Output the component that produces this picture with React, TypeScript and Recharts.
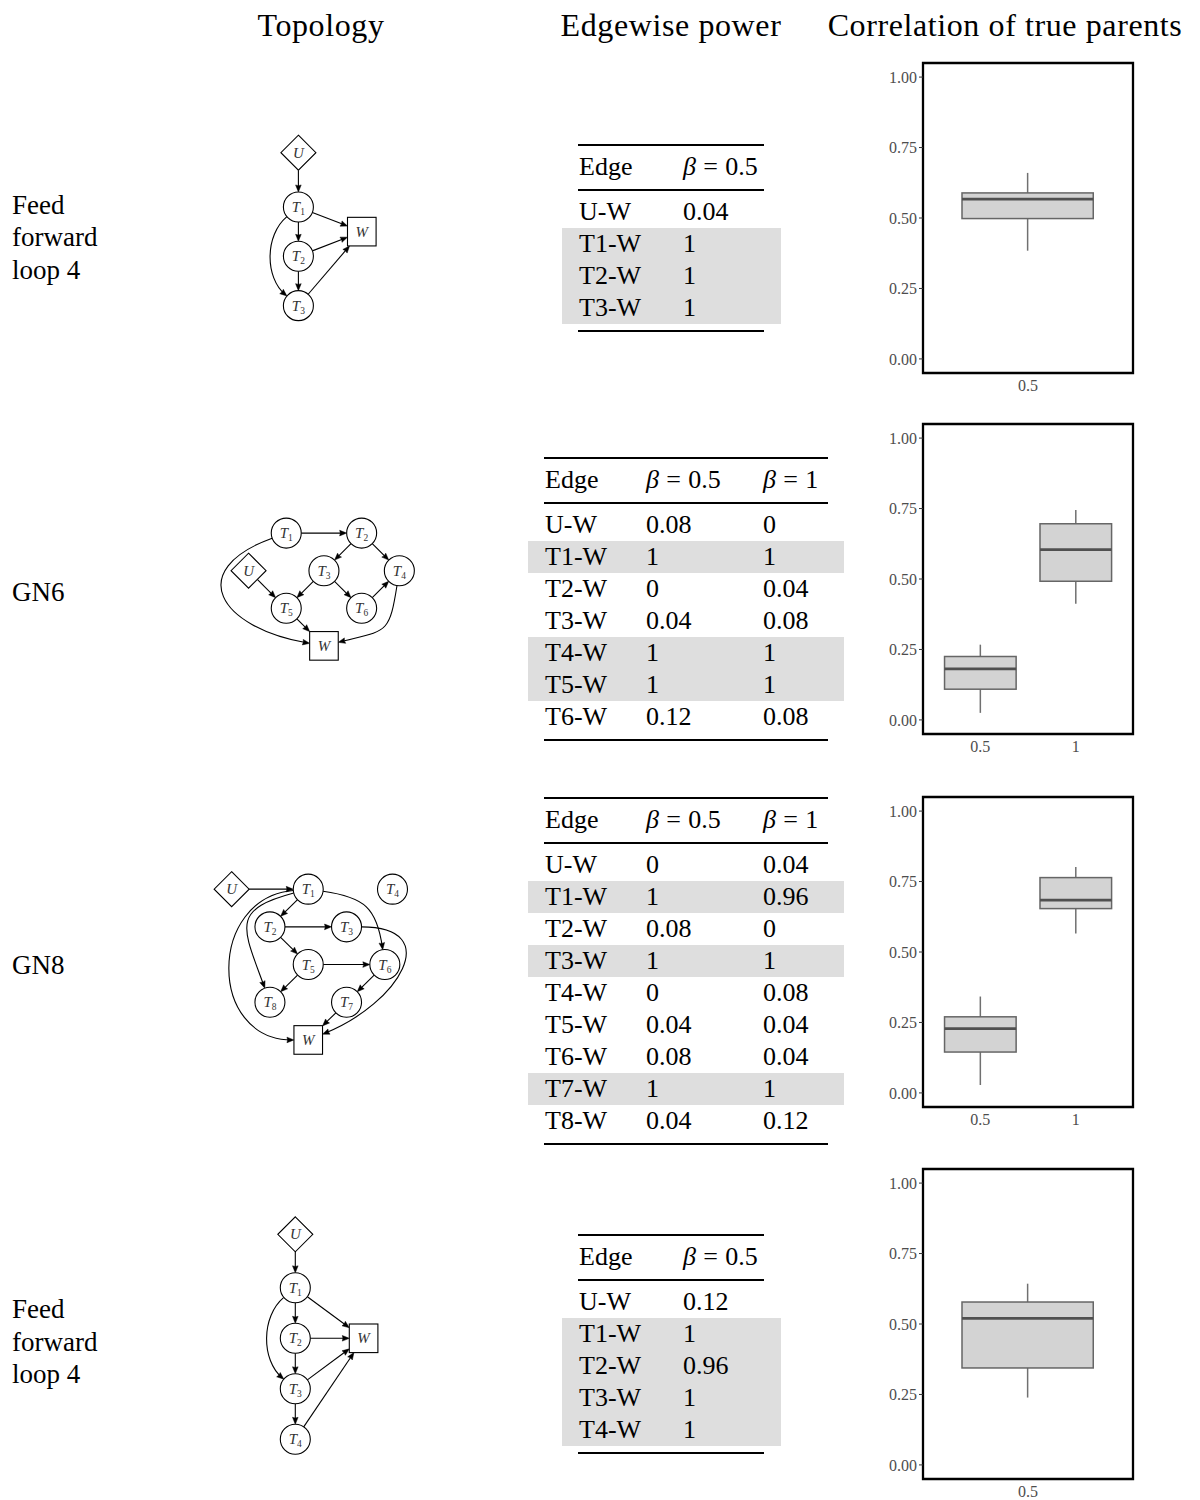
import React from 'react';
import {
  ComposedChart,
  ScatterChart,
  Scatter,
  Bar,
  XAxis,
  YAxis,
  ReferenceLine,
  ReferenceArea,
} from 'recharts';

const SERIF = '"Liberation Serif", "Times New Roman", Times, serif';

// ---------- headings ----------
const columnTitles = ['Topology', 'Edgewise power', 'Correlation of true parents'];
const ffl4Label = ['Feed', 'forward', 'loop 4'];
const gn6Label = ['GN6'];
const gn8Label = ['GN8'];

// ---------- edgewise power tables ----------
const ffl4aEdges = ['U-W', 'T1-W', 'T2-W', 'T3-W'];
const ffl4aPowerB05 = [0.04, 1, 1, 1];
const ffl4aParents = ['T1-W', 'T2-W', 'T3-W'];

const gn6Edges = ['U-W', 'T1-W', 'T2-W', 'T3-W', 'T4-W', 'T5-W', 'T6-W'];
const gn6PowerB05 = [0.08, 1, 0, 0.04, 1, 1, 0.12];
const gn6PowerB1 = [0, 1, 0.04, 0.08, 1, 1, 0.08];
const gn6Parents = ['T1-W', 'T4-W', 'T5-W'];

const gn8Edges = ['U-W', 'T1-W', 'T2-W', 'T3-W', 'T4-W', 'T5-W', 'T6-W', 'T7-W', 'T8-W'];
const gn8PowerB05 = [0, 1, 0.08, 1, 0, 0.04, 0.08, 1, 0.04];
const gn8PowerB1 = [0.04, 0.96, 0, 1, 0.08, 0.04, 0.04, 1, 0.12];
const gn8Parents = ['T1-W', 'T3-W', 'T7-W'];

const ffl4bEdges = ['U-W', 'T1-W', 'T2-W', 'T3-W', 'T4-W'];
const ffl4bPowerB05 = [0.12, 1, 0.96, 1, 1];
const ffl4bParents = ['T1-W', 'T2-W', 'T3-W', 'T4-W'];

// ---------- correlation box plots ----------
const ffl4aBetas = ['0.5'];
const ffl4aLower = [0.384];
const ffl4aQ1 = [0.498];
const ffl4aMedian = [0.567];
const ffl4aQ3 = [0.589];
const ffl4aUpper = [0.66];

const gn6Betas = ['0.5', '1'];
const gn6Lower = [0.025, 0.412];
const gn6Q1 = [0.109, 0.492];
const gn6Median = [0.181, 0.604];
const gn6Q3 = [0.225, 0.696];
const gn6Upper = [0.267, 0.745];

const gn8Betas = ['0.5', '1'];
const gn8Lower = [0.028, 0.566];
const gn8Q1 = [0.145, 0.654];
const gn8Median = [0.228, 0.684];
const gn8Q3 = [0.27, 0.764];
const gn8Upper = [0.342, 0.802];

const ffl4bBetas = ['0.5'];
const ffl4bLower = [0.239];
const ffl4bQ1 = [0.344];
const ffl4bMedian = [0.52];
const ffl4bQ3 = [0.578];
const ffl4bUpper = [0.643];

const corrTicks = [0, 0.25, 0.5, 0.75, 1];

// ---------- topologies (node layout in grid units) ----------
type NodeKind = 'circle' | 'diamond' | 'square';
type GNode = { id: string; name: string; sub: string; kind: NodeKind; col: number; row: number };
type Bend = { out: number; in: number; loose: number };
type Link = [string, string, Bend?];

const ffl4aNodes: GNode[] = [
  { id: 'U', name: 'U', sub: '', kind: 'diamond', col: 0, row: -1.1 },
  { id: 'T1', name: 'T', sub: '1', kind: 'circle', col: 0, row: 0 },
  { id: 'T2', name: 'T', sub: '2', kind: 'circle', col: 0, row: 1 },
  { id: 'T3', name: 'T', sub: '3', kind: 'circle', col: 0, row: 2 },
  { id: 'W', name: 'W', sub: '', kind: 'square', col: 1, row: 0.5 },
];
const ffl4aLinks: Link[] = [
  ['U', 'T1'],
  ['T1', 'T2'],
  ['T2', 'T3'],
  ['T1', 'T3', { out: 140, in: 40, loose: 0.75 }],
  ['T1', 'W'],
  ['T2', 'W'],
  ['T3', 'W'],
];

const gn6Nodes: GNode[] = [
  { id: 'T1', name: 'T', sub: '1', kind: 'circle', col: 1, row: 0 },
  { id: 'T2', name: 'T', sub: '2', kind: 'circle', col: 3, row: 0 },
  { id: 'U', name: 'U', sub: '', kind: 'diamond', col: 0, row: 1 },
  { id: 'T3', name: 'T', sub: '3', kind: 'circle', col: 2, row: 1 },
  { id: 'T4', name: 'T', sub: '4', kind: 'circle', col: 4, row: 1 },
  { id: 'T5', name: 'T', sub: '5', kind: 'circle', col: 1, row: 2 },
  { id: 'T6', name: 'T', sub: '6', kind: 'circle', col: 3, row: 2 },
  { id: 'W', name: 'W', sub: '', kind: 'square', col: 2, row: 3 },
];
const gn6Links: Link[] = [
  ['T1', 'T2'],
  ['T2', 'T3'],
  ['T2', 'T4'],
  ['T3', 'T5'],
  ['T3', 'T6'],
  ['T6', 'T4'],
  ['U', 'T5'],
  ['T5', 'W'],
  ['T1', 'W', { out: 160, in: 10, loose: 2.0 }],
  ['T4', 'W', { out: 99, in: 166, loose: 1.2 }],
];

const gn8Nodes: GNode[] = [
  { id: 'U', name: 'U', sub: '', kind: 'diamond', col: 0, row: 0 },
  { id: 'T1', name: 'T', sub: '1', kind: 'circle', col: 2, row: 0 },
  { id: 'T4', name: 'T', sub: '4', kind: 'circle', col: 4.2, row: 0 },
  { id: 'T2', name: 'T', sub: '2', kind: 'circle', col: 1, row: 1 },
  { id: 'T3', name: 'T', sub: '3', kind: 'circle', col: 3, row: 1 },
  { id: 'T5', name: 'T', sub: '5', kind: 'circle', col: 2, row: 2 },
  { id: 'T6', name: 'T', sub: '6', kind: 'circle', col: 4, row: 2 },
  { id: 'T8', name: 'T', sub: '8', kind: 'circle', col: 1, row: 3 },
  { id: 'T7', name: 'T', sub: '7', kind: 'circle', col: 3, row: 3 },
  { id: 'W', name: 'W', sub: '', kind: 'square', col: 2, row: 4 },
];
const gn8Links: Link[] = [
  ['U', 'T1'],
  ['T1', 'T2'],
  ['T2', 'T3'],
  ['T2', 'T5'],
  ['T5', 'T6'],
  ['T5', 'T8'],
  ['T6', 'T7'],
  ['T7', 'W'],
  ['T1', 'T6', { out: 8, in: 82, loose: 1 }],
  ['T1', 'T8', { out: 165, in: 70, loose: 1.4 }],
  ['T1', 'W', { out: 175, in: 0, loose: 1.46 }],
  ['T3', 'W', { out: 0, in: 158, loose: 1.78 }],
];

const ffl4bNodes: GNode[] = [
  { id: 'U', name: 'U', sub: '', kind: 'diamond', col: 0, row: -1.06 },
  { id: 'T1', name: 'T', sub: '1', kind: 'circle', col: 0, row: 0 },
  { id: 'T2', name: 'T', sub: '2', kind: 'circle', col: 0, row: 1 },
  { id: 'T3', name: 'T', sub: '3', kind: 'circle', col: 0, row: 2 },
  { id: 'T4', name: 'T', sub: '4', kind: 'circle', col: 0, row: 3 },
  { id: 'W', name: 'W', sub: '', kind: 'square', col: 1, row: 1 },
];
const ffl4bLinks: Link[] = [
  ['U', 'T1'],
  ['T1', 'T2'],
  ['T2', 'T3'],
  ['T3', 'T4'],
  ['T1', 'T3', { out: 140, in: 40, loose: 0.75 }],
  ['T1', 'W'],
  ['T2', 'W'],
  ['T3', 'W'],
  ['T4', 'W'],
];

// ---------- drawing helpers ----------
const NODE_R = 15;
const DIAMOND_H = 17.5;
const SQUARE_H = 14.3;
const HEAD_LEN = 7;
const HEAD_HALF = 2.8;

function borderDistance(kind: NodeKind, ux: number, uy: number) {
  if (kind === 'circle') return NODE_R;
  if (kind === 'diamond') return DIAMOND_H / (Math.abs(ux) + Math.abs(uy));
  return SQUARE_H / Math.max(Math.abs(ux), Math.abs(uy));
}

function EdgeArrow(props: any) {
  const { x1, y1, x2, y2, from, to, bend } = props;
  if ([x1, y1, x2, y2].some((v) => typeof v !== 'number' || isNaN(v))) return null;
  const dx = x2 - x1;
  const dy = y2 - y1;
  const dist = Math.hypot(dx, dy);
  const chord = Math.atan2(dy, dx);
  const aOut = bend ? (bend.out * Math.PI) / 180 : chord;
  const aIn = bend ? (bend.in * Math.PI) / 180 : chord;
  const uox = Math.cos(aOut);
  const uoy = Math.sin(aOut);
  const uix = Math.cos(aIn);
  const uiy = Math.sin(aIn);
  const ds = borderDistance(from.kind, uox, uoy);
  const de = borderDistance(to.kind, uix, uiy);
  const sx = x1 + uox * ds;
  const sy = y1 + uoy * ds;
  const ex = x2 - uix * de;
  const ey = y2 - uiy * de;
  let d: string;
  if (bend) {
    const L = 0.3915 * bend.loose * dist;
    d = `M${sx},${sy} C${sx + uox * L},${sy + uoy * L} ${ex - uix * L},${ey - uiy * L} ${ex - uix * 2},${ey - uiy * 2}`;
  } else {
    d = `M${sx},${sy} L${ex - uix * 2},${ey - uiy * 2}`;
  }
  const bx = ex - uix * HEAD_LEN;
  const by = ey - uiy * HEAD_LEN;
  const nx = -uiy;
  const ny = uix;
  const head = `M${ex},${ey} L${bx + nx * HEAD_HALF},${by + ny * HEAD_HALF} Q${ex - uix * HEAD_LEN * 0.8},${ey - uiy * HEAD_LEN * 0.8} ${bx - nx * HEAD_HALF},${by - ny * HEAD_HALF} Z`;
  return (
    <g>
      <path d={d} fill="none" stroke="#000" strokeWidth={1.1} />
      <path d={head} fill="#000" stroke="#000" strokeWidth={0.5} strokeLinejoin="round" />
    </g>
  );
}

function NodeShape(props: any) {
  const { cx, cy } = props;
  const node: GNode = props.payload;
  if (typeof cx !== 'number' || !node) return null;
  let outline: React.ReactNode;
  if (node.kind === 'circle') {
    outline = <circle cx={cx} cy={cy} r={NODE_R} fill="#fff" stroke="#000" strokeWidth={1.1} />;
  } else if (node.kind === 'diamond') {
    const h = DIAMOND_H;
    outline = (
      <polygon
        points={`${cx},${cy - h} ${cx + h},${cy} ${cx},${cy + h} ${cx - h},${cy}`}
        fill="#fff"
        stroke="#000"
        strokeWidth={1.1}
      />
    );
  } else {
    const h = SQUARE_H;
    outline = (
      <rect x={cx - h} y={cy - h} width={2 * h} height={2 * h} fill="#fff" stroke="#000" strokeWidth={1.1} />
    );
  }
  return (
    <g>
      {outline}
      <text
        x={cx}
        y={cy + 5}
        textAnchor="middle"
        fontFamily={SERIF}
        fontSize={15}
        fontStyle="italic"
        fill="#333"
      >
        {node.name}
        {node.sub ? (
          <tspan fontSize={9.5} fontStyle="normal" dy={3}>
            {node.sub}
          </tspan>
        ) : null}
      </text>
    </g>
  );
}

type Layout = { ox: number; oy: number; sx: number; sy: number; xr: [number, number]; yr: [number, number] };

function Topology({ layout, nodes, links }: { layout: Layout; nodes: GNode[]; links: Link[] }) {
  const { ox, oy, sx, sy, xr, yr } = layout;
  const left = ox + xr[0] * sx;
  const top = oy + yr[0] * sy;
  const width = (xr[1] - xr[0]) * sx;
  const height = (yr[1] - yr[0]) * sy;
  const byId: Record<string, GNode> = {};
  nodes.forEach((n) => {
    byId[n.id] = n;
  });
  return (
    <div style={{ position: 'absolute', left, top, width, height }}>
      <ScatterChart
        width={width}
        height={height}
        margin={{ top: 0, right: 0, bottom: 0, left: 0 }}
        style={{ overflow: 'visible' }}
      >
        <XAxis type="number" dataKey="col" domain={xr} hide allowDataOverflow />
        <YAxis type="number" dataKey="row" domain={yr} hide reversed allowDataOverflow />
        {links.map(([a, b, bend], i) => (
          <ReferenceLine
            key={`${a}-${b}-${i}`}
            segment={[
              { x: byId[a].col, y: byId[a].row },
              { x: byId[b].col, y: byId[b].row },
            ]}
            ifOverflow="visible"
            shape={(p: any) => <EdgeArrow {...p} from={byId[a]} to={byId[b]} bend={bend} />}
          />
        ))}
        <Scatter data={nodes} shape={NodeShape} isAnimationActive={false} />
      </ScatterChart>
    </div>
  );
}

// ---------- box plot ----------
const BOX_CHART_W = 290;
const BOX_Y_AXIS_W = 63;
const BOX_RIGHT = 17;
const BOX_PLOT_W = BOX_CHART_W - BOX_Y_AXIS_W - BOX_RIGHT;
const BOX_PLOT_H = 310;

function BoxShape(props: any) {
  const { x, y, width, height } = props;
  const d = props.payload ?? props;
  if (typeof x !== 'number' || typeof y !== 'number' || !d) return null;
  const top = Math.min(y, y + height);
  const bottom = Math.max(y, y + height);
  const span = d.upper - d.lower;
  const py = (v: number) => bottom - ((v - d.lower) / span) * (bottom - top);
  const cx = x + width / 2;
  const yq3 = py(d.q3);
  const yq1 = py(d.q1);
  const ym = py(d.median);
  return (
    <g>
      <line x1={cx} x2={cx} y1={top} y2={bottom} stroke="#707070" strokeWidth={1.5} />
      <rect x={x} y={yq3} width={width} height={yq1 - yq3} fill="#D3D3D3" stroke="#666" strokeWidth={1.5} />
      <line x1={x} x2={x + width} y1={ym} y2={ym} stroke="#505050" strokeWidth={2.8} />
    </g>
  );
}

type BoxProps = {
  top: number;
  betas: string[];
  lower: number[];
  q1: number[];
  median: number[];
  q3: number[];
  upper: number[];
};

function CorrelationBox({ top, betas, lower, q1, median, q3, upper }: BoxProps) {
  const n = betas.length;
  const domain: [number, number] = [0.4, n + 0.6];
  const unitPx = BOX_PLOT_W / (domain[1] - domain[0]);
  const data = betas.map((b, i) => ({
    pos: i + 1,
    beta: b,
    lower: lower[i],
    q1: q1[i],
    median: median[i],
    q3: q3[i],
    upper: upper[i],
  }));
  const tickStyle = { fill: '#4d4d4d', fontSize: 16, fontFamily: SERIF };
  return (
    <div style={{ position: 'absolute', left: 860, top: top - 10 }}>
      <ComposedChart
        width={BOX_CHART_W}
        height={BOX_PLOT_H + 40}
        data={data}
        margin={{ top: 10, right: BOX_RIGHT, bottom: 0, left: 0 }}
      >
        <XAxis
          dataKey="pos"
          type="number"
          domain={domain}
          ticks={data.map((d) => d.pos)}
          tickFormatter={(v: number) => betas[v - 1]}
          interval={0}
          axisLine={false}
          tickLine={false}
          tickSize={4}
          tickMargin={3}
          height={30}
          tick={tickStyle}
          allowDataOverflow
        />
        <YAxis
          type="number"
          domain={[-0.05, 1.05]}
          ticks={corrTicks}
          tickFormatter={(v: number) => v.toFixed(2)}
          width={BOX_Y_AXIS_W}
          axisLine={false}
          tickLine={{ stroke: '#333', strokeWidth: 1 }}
          tickSize={4}
          tickMargin={2}
          tick={tickStyle}
          allowDataOverflow
        />
        <Bar
          dataKey={(d: any) => [d.lower, d.upper]}
          barSize={0.75 * unitPx}
          shape={BoxShape}
          isAnimationActive={false}
        />
        <ReferenceArea y1={-0.05} y2={1.05} fill="none" stroke="#000" strokeWidth={2.3} ifOverflow="visible" />
      </ComposedChart>
    </div>
  );
}

// ---------- tables ----------
const TABLE_FONT = 26;
const ROW_H = 32;

type TableProps = {
  top: number;
  ruleL: number;
  ruleR: number;
  shadeL: number;
  shadeR: number;
  colX: number[];
  betas: string[];
  edges: string[];
  values: number[][];
  parents: string[];
};

function Cell({ x, cy, children }: { x: number; cy: number; children: React.ReactNode }) {
  return (
    <div
      style={{
        position: 'absolute',
        left: x,
        top: cy - ROW_H / 2,
        height: ROW_H,
        lineHeight: `${ROW_H}px`,
        fontFamily: SERIF,
        fontSize: TABLE_FONT,
        color: '#000',
        whiteSpace: 'nowrap',
      }}
    >
      {children}
    </div>
  );
}

function Rule({ x0, x1, y, w }: { x0: number; x1: number; y: number; w: number }) {
  return <div style={{ position: 'absolute', left: x0, top: y - w / 2, width: x1 - x0, height: w, background: '#000' }} />;
}

function BetaHeader({ value }: { value: string }) {
  return (
    <>
      <span style={{ fontStyle: 'italic' }}>β</span>
      <span style={{ margin: '0 0.28em' }}>=</span>
      {value}
    </>
  );
}

function EdgeTable({ top, ruleL, ruleR, shadeL, shadeR, colX, betas, edges, values, parents }: TableProps) {
  const headerCy = top + 22;
  const midRule = top + 45;
  const firstCy = top + 67;
  const lastCy = firstCy + ROW_H * (edges.length - 1);
  return (
    <>
      {edges.map((e, i) =>
        parents.includes(e) ? (
          <div
            key={`shade-${e}`}
            style={{
              position: 'absolute',
              left: shadeL,
              top: firstCy + ROW_H * i - ROW_H / 2,
              width: shadeR - shadeL,
              height: ROW_H,
              background: '#dedede',
            }}
          />
        ) : null
      )}
      <Rule x0={ruleL} x1={ruleR} y={top} w={2.5} />
      <Rule x0={ruleL} x1={ruleR} y={midRule} w={1.5} />
      <Rule x0={ruleL} x1={ruleR} y={lastCy + 23} w={2.5} />
      <Cell x={colX[0]} cy={headerCy}>
        Edge
      </Cell>
      {betas.map((b, j) => (
        <Cell key={`h-${b}`} x={colX[j + 1]} cy={headerCy}>
          <BetaHeader value={b} />
        </Cell>
      ))}
      {edges.map((e, i) => (
        <React.Fragment key={e}>
          <Cell x={colX[0]} cy={firstCy + ROW_H * i}>
            {e}
          </Cell>
          {values.map((col, j) => (
            <Cell key={`${e}-${j}`} x={colX[j + 1]} cy={firstCy + ROW_H * i}>
              {String(col[i])}
            </Cell>
          ))}
        </React.Fragment>
      ))}
    </>
  );
}

// ---------- text ----------
function TextLine({
  x,
  cy,
  size,
  children,
  center,
  spacing,
}: {
  x: number;
  cy: number;
  size: number;
  children: React.ReactNode;
  center?: boolean;
  spacing?: number;
}) {
  const lh = Math.round(size * 1.3);
  return (
    <div
      style={{
        position: 'absolute',
        left: center ? x - 250 : x,
        width: center ? 500 : undefined,
        textAlign: center ? 'center' : 'left',
        top: cy - lh / 2,
        height: lh,
        lineHeight: `${lh}px`,
        fontFamily: SERIF,
        fontSize: size,
        letterSpacing: spacing ? `${spacing}px` : undefined,
        color: '#000',
        whiteSpace: 'nowrap',
      }}
    >
      {children}
    </div>
  );
}

function RowLabel({ lines, cy }: { lines: string[]; cy: number }) {
  const start = cy - ((lines.length - 1) * 32.5) / 2;
  return (
    <>
      {lines.map((l, i) => (
        <TextLine key={l + i} x={12} cy={start + i * 32.5} size={27}>
          {l}
        </TextLine>
      ))}
    </>
  );
}

const narrowCols = [579, 683];
const wideCols = [545, 646, 763];

export default function App() {
  return (
    <div style={{ position: 'absolute', left: 0, top: 0, width: 1200, height: 1500, background: '#fff', overflow: 'hidden' }}>
      <TextLine x={321} cy={25} size={32} spacing={0.6} center>
        {columnTitles[0]}
      </TextLine>
      <TextLine x={671} cy={25} size={32} spacing={0.6} center>
        {columnTitles[1]}
      </TextLine>
      <TextLine x={1005} cy={25} size={32} spacing={0.6} center>
        {columnTitles[2]}
      </TextLine>

      <RowLabel lines={ffl4Label} cy={237.5} />
      <RowLabel lines={gn6Label} cy={592} />
      <RowLabel lines={gn8Label} cy={965} />
      <RowLabel lines={ffl4Label} cy={1342} />

      <Topology
        layout={{ ox: 298.3, oy: 207.3, sx: 63.4, sy: 49.35, xr: [-1, 1.6], yr: [-1.6, 2.6] }}
        nodes={ffl4aNodes}
        links={ffl4aLinks}
      />
      <Topology
        layout={{ ox: 248.3, oy: 533.3, sx: 37.7, sy: 37.6, xr: [-1.5, 5], yr: [-0.8, 3.8] }}
        nodes={gn6Nodes}
        links={gn6Links}
      />
      <Topology
        layout={{ ox: 231.7, oy: 889.3, sx: 38.3, sy: 37.7, xr: [-0.8, 5.2], yr: [-0.8, 4.7] }}
        nodes={gn8Nodes}
        links={gn8Links}
      />
      <Topology
        layout={{ ox: 295.7, oy: 1287.7, sx: 68.3, sy: 50.5, xr: [-1, 1.6], yr: [-1.6, 3.6] }}
        nodes={ffl4bNodes}
        links={ffl4bLinks}
      />

      <EdgeTable
        top={145}
        ruleL={578}
        ruleR={764}
        shadeL={562}
        shadeR={781}
        colX={narrowCols}
        betas={['0.5']}
        edges={ffl4aEdges}
        values={[ffl4aPowerB05]}
        parents={ffl4aParents}
      />
      <EdgeTable
        top={458}
        ruleL={544}
        ruleR={828}
        shadeL={528}
        shadeR={844}
        colX={wideCols}
        betas={['0.5', '1']}
        edges={gn6Edges}
        values={[gn6PowerB05, gn6PowerB1]}
        parents={gn6Parents}
      />
      <EdgeTable
        top={798}
        ruleL={544}
        ruleR={828}
        shadeL={528}
        shadeR={844}
        colX={wideCols}
        betas={['0.5', '1']}
        edges={gn8Edges}
        values={[gn8PowerB05, gn8PowerB1]}
        parents={gn8Parents}
      />
      <EdgeTable
        top={1235}
        ruleL={578}
        ruleR={764}
        shadeL={562}
        shadeR={781}
        colX={narrowCols}
        betas={['0.5']}
        edges={ffl4bEdges}
        values={[ffl4bPowerB05]}
        parents={ffl4bParents}
      />

      <CorrelationBox
        top={63}
        betas={ffl4aBetas}
        lower={ffl4aLower}
        q1={ffl4aQ1}
        median={ffl4aMedian}
        q3={ffl4aQ3}
        upper={ffl4aUpper}
      />
      <CorrelationBox
        top={424}
        betas={gn6Betas}
        lower={gn6Lower}
        q1={gn6Q1}
        median={gn6Median}
        q3={gn6Q3}
        upper={gn6Upper}
      />
      <CorrelationBox
        top={797}
        betas={gn8Betas}
        lower={gn8Lower}
        q1={gn8Q1}
        median={gn8Median}
        q3={gn8Q3}
        upper={gn8Upper}
      />
      <CorrelationBox
        top={1169}
        betas={ffl4bBetas}
        lower={ffl4bLower}
        q1={ffl4bQ1}
        median={ffl4bMedian}
        q3={ffl4bQ3}
        upper={ffl4bUpper}
      />
    </div>
  );
}
